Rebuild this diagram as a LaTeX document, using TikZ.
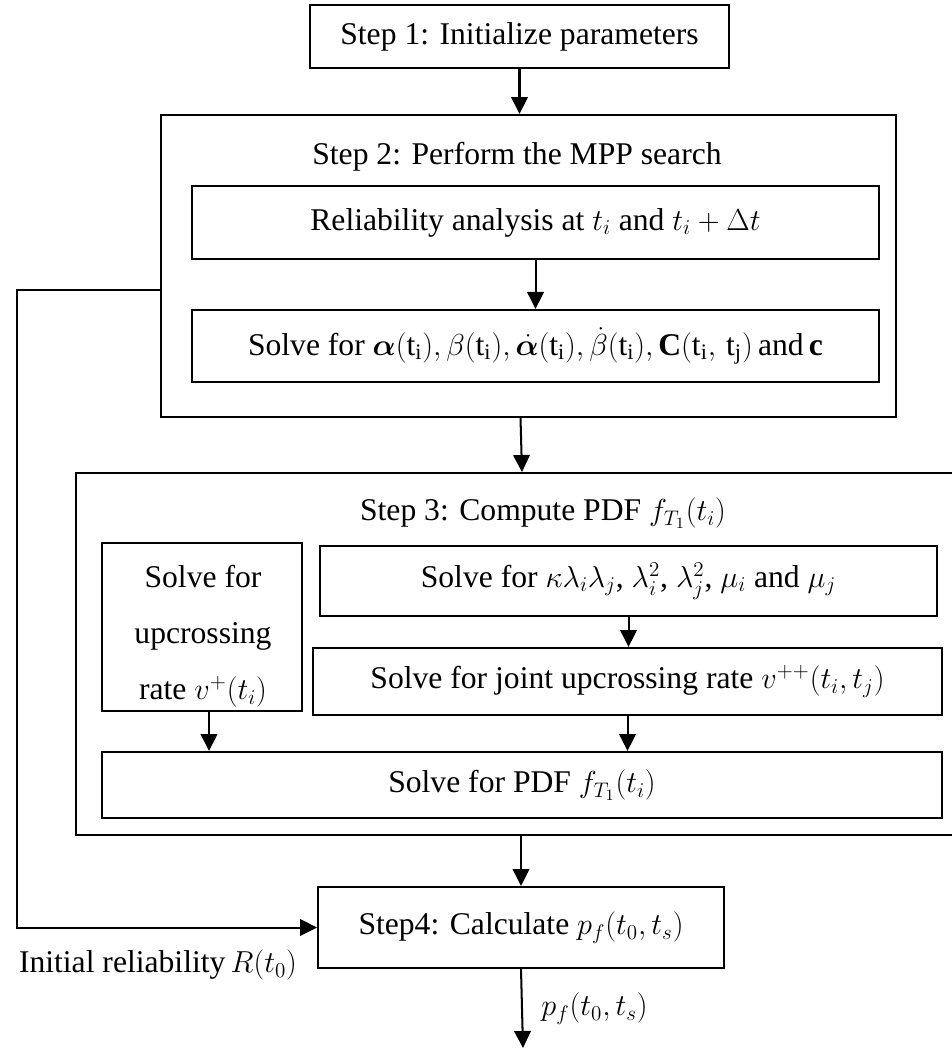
\documentclass[tikz,border=0pt]{standalone}
\usepackage{amsmath,bm}
\usepackage{fontspec}
\setmainfont{Liberation Serif}
\usepackage{tikz}
\usetikzlibrary{arrows.meta,positioning,calc}

\begin{document}
\begin{tikzpicture}[
x=0.02cm, y=-0.02cm,
every node/.style={font=\fontsize{18}{22}\selectfont},
line width=1.15pt,
stepbox/.style={
draw,
inner sep=0pt,
align=center
},
frame/.style={
draw,
inner sep=0pt
},
arrow/.style={-{Triangle[length=0.34cm, width=0.33cm]}}
]
\useasboundingbox (0,0) rectangle (952,1050);

% Main steps
\node[stepbox, minimum width=8.38cm, minimum height=1.26cm] (step1) at (519.5,36.5) {Step 1: Initialize parameters};

\node[frame, minimum width=14.7cm, minimum height=6.04cm] (step2) at (528.5,266) {};
\node (step2title) at (517,157) {Step 2: Perform the MPP search};
\node[stepbox, minimum width=13.74cm, minimum height=1.46cm] (rel) at (535.5,222.5) {Reliability analysis at $t_i$ and $t_i+\Delta t$};
\node[stepbox, minimum width=13.74cm, minimum height=1.44cm] (alpha) at (535.5,346) {Solve for $\bm{\alpha}(\mathrm{t}_\mathrm{i}), \beta(\mathrm{t}_\mathrm{i}), \dot{\bm{\alpha}}(\mathrm{t}_\mathrm{i}), \dot{\beta}(\mathrm{t}_\mathrm{i}), \mathbf{C}(\mathrm{t}_\mathrm{i},\,\mathrm{t}_\mathrm{j})$\,and\,$\mathbf{c}$};

\node[frame, minimum width=18.68cm, minimum height=7.24cm] (step3) at (543,654) {};
\node (step3title) at (543,513) {Step 3: Compute PDF $f_{T_1}(t_i)$};
\node[frame, minimum width=4cm, minimum height=3.36cm] (upx) at (202,627) {};
\node[align=center, font=\fontsize{18}{32}\selectfont] (upxtext) at (203,636) {Solve for\\upcrossing\\rate $v^{+}(t_i)$};
\node[stepbox, minimum width=12.34cm, minimum height=1.4cm] (kappa) at (628.5,581) {Solve for $\kappa\lambda_i\lambda_j$, $\lambda_i^2$, $\lambda_j^2$, $\mu_i$ and $\mu_j$};
\node[stepbox, minimum width=12.58cm, minimum height=1.34cm] (joint) at (627.5,681.5) {Solve for joint upcrossing rate $v^{++}(t_i,t_j)$};
\node[stepbox, minimum width=16.8cm, minimum height=1.32cm] (pdf) at (522,785) {Solve for PDF $f_{T_1}(t_i)$};

\node[stepbox, minimum width=8.12cm, minimum height=1.62cm] (step4) at (521,927.5) {Step4: Calculate $p_f(t_0,t_s)$};
\node (initrel) at (158,965) {Initial reliability\,$R(t_0)$};

\coordinate (loop) at (17,600);
\coordinate (upxout) at ($(upx.south)+(7,0)$);
\coordinate (out) at (523,1048);

% Arrows
\draw[arrow] (step1.south) -- (step1.south |- step2.north);
\draw[arrow] (rel.south) -- (alpha.north);
\draw[arrow] ($(step2.south)+(-8,0)$) -- ($(step3.north)+(-21,0)$);
\draw[arrow] (kappa.south) -- (kappa.south |- joint.north);
\draw[arrow] (upxout) -- (upxout |- pdf.north);
\draw[arrow] (joint.south) -- (joint.south |- pdf.north);
\draw[arrow] (step4.north |- step3.south) -- (step4.north);
\draw[arrow] ($(step2.west)+(0,24)$) -| (loop) |- (step4.west);
\draw[arrow] (step4.south) -- node[right, xshift=0.25cm]{$p_f(t_0,t_s)$} (out);

\end{tikzpicture}
\end{document}
